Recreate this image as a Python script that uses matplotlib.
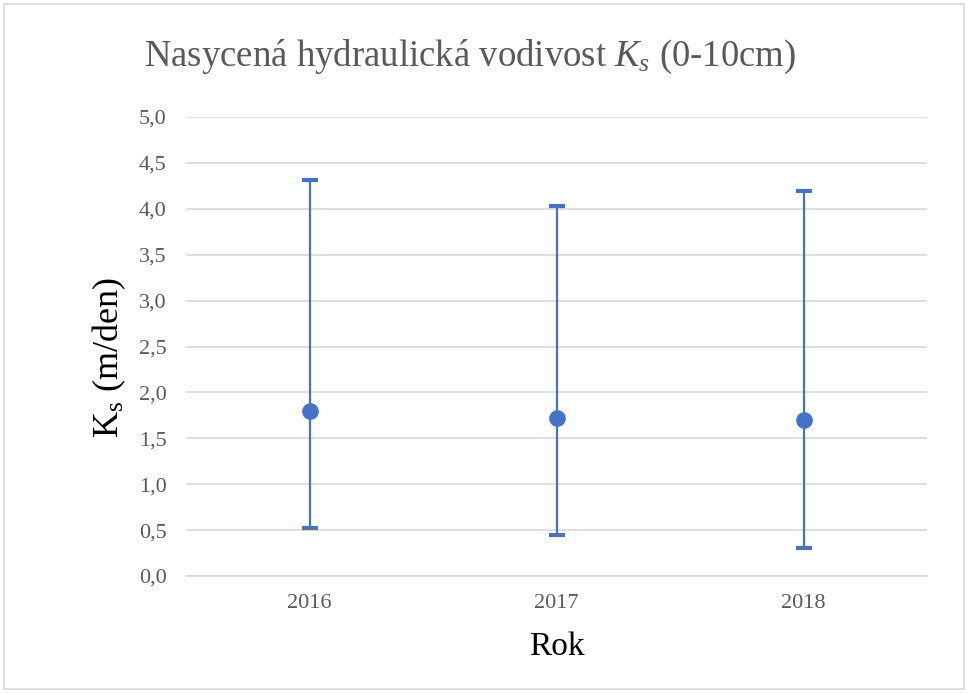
import matplotlib
matplotlib.use("Agg")
import matplotlib.pyplot as plt
from matplotlib.patches import Rectangle

years = ["2016", "2017", "2018"]
mean_vals = [1.80, 1.72, 1.70]
max_vals = [4.31, 4.03, 4.19]
min_vals = [0.52, 0.45, 0.31]
y_ticks = [0.0, 0.5, 1.0, 1.5, 2.0, 2.5, 3.0, 3.5, 4.0, 4.5, 5.0]
y_tick_labels = ["0,0", "0,5", "1,0", "1,5", "2,0", "2,5", "3,0", "3,5", "4,0", "4,5", "5,0"]

plt.rcParams['font.family'] = ['Liberation Serif', 'DejaVu Serif']
plt.rcParams['mathtext.fontset'] = 'custom'
plt.rcParams['mathtext.rm'] = 'Liberation Serif'
plt.rcParams['mathtext.it'] = 'Liberation Serif:italic'

blue = '#4472C4'
grid_c = '#D9D9D9'
txt_c = '#595959'

fig = plt.figure(figsize=(9.68, 6.93), dpi=100)
ax = fig.add_axes([186/968, 1-576/693, (927-186)/968, (576-117)/693])

x = list(range(len(years)))
lower = [m - lo for m, lo in zip(mean_vals, min_vals)]
upper = [hi - m for m, hi in zip(mean_vals, max_vals)]
ax.errorbar(x, mean_vals, yerr=[lower, upper], fmt='o', color=blue, ecolor=blue,
            elinewidth=1.6, capsize=5.5, capthick=3, markersize=11, zorder=3)
ax.plot(x, min_vals, linestyle='none', marker='_', color='#C55A11', markersize=8,
        markeredgewidth=0.7, zorder=4, alpha=0.55)

ax.set_xlim(-0.5, 2.5)
ax.set_ylim(0, 5.0)
ax.set_xticks(x)
ax.set_xticklabels(years)
ax.set_yticks(y_ticks)
ax.set_yticklabels(y_tick_labels)
ax.tick_params(axis='both', length=0, labelsize=16, labelcolor=txt_c)
ax.tick_params(axis='y', pad=14)
ax.tick_params(axis='x', pad=13)
ax.grid(axis='y', color=grid_c, linewidth=1.2, zorder=0)
ax.set_axisbelow(True)
for s in ['top', 'right', 'left']:
    ax.spines[s].set_visible(False)
ax.spines['bottom'].set_color(grid_c)
ax.spines['bottom'].set_linewidth(1.2)

ax.set_xlabel("Rok", fontsize=24, color='black', labelpad=13)
ax.set_ylabel(r"K$_\mathrm{s}$ (m/den)", fontsize=26, color='black')
ax.yaxis.set_label_coords(-0.078, 0.475)

fig.text(470/968, 1-57/693, r"Nasycená hydraulická vodivost $K_s$ (0-10cm)",
         fontsize=26.5, color=txt_c, ha='center', va='center')

fig.patches.append(Rectangle((4/968, 4/693), 1-8/968, 1-8/693, transform=fig.transFigure,
                             fill=False, edgecolor=grid_c, linewidth=1.2))

fig.savefig("out.png", dpi=100)
